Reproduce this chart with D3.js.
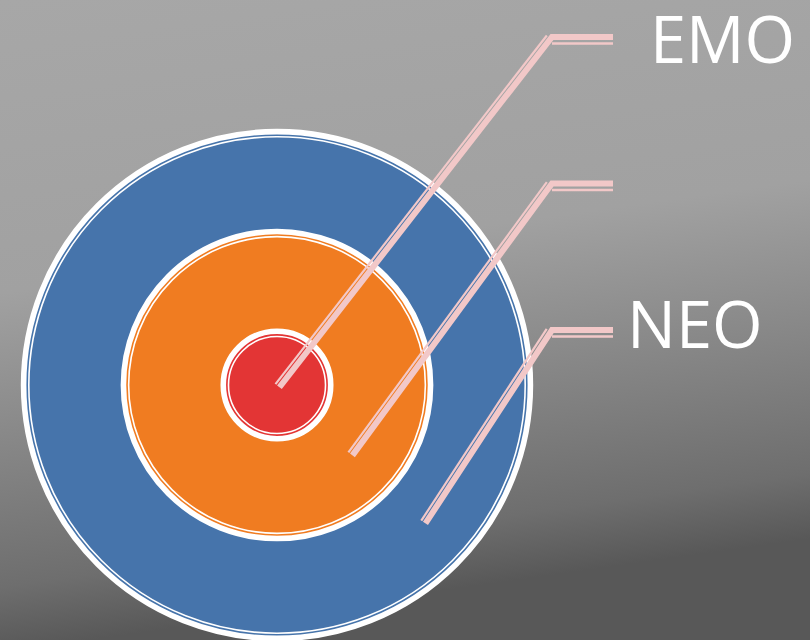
<!DOCTYPE html>
<html>
<head>
<meta charset="utf-8">
<script src="https://cdn.jsdelivr.net/npm/d3@7"></script>
<style>
  html, body { margin: 0; padding: 0; background: #a0a0a0; }
  svg { display: block; }
</style>
</head>
<body>
<svg id="chart" width="810" height="640"></svg>
<script>
// ---- data (inner ring -> outer ring) ----
const categories = ["EMO", "", "NEO"];
const ringValues = [22, 61, 100];          // relative ring size (% of outer radius)
const ringColors = ["#e33535", "#f07c21", "#4674ab"];

const W = 810, H = 640;
const svg = d3.select("#chart");

// background gradient
const defs = svg.append("defs");
const grad = defs.append("linearGradient").attr("id", "bg")
  .attr("gradientUnits", "userSpaceOnUse")
  .attr("x1", 0).attr("y1", 0).attr("x2", 90).attr("y2", 640);
grad.append("stop").attr("offset", "0").attr("stop-color", "#a7a7a7");
grad.append("stop").attr("offset", "0.45").attr("stop-color", "#a1a1a1");
grad.append("stop").attr("offset", "0.9").attr("stop-color", "#6e6e6e");
grad.append("stop").attr("offset", "1").attr("stop-color", "#585858");
svg.append("rect").attr("width", W).attr("height", H).attr("fill", "url(#bg)");

const cx = 277, cy = 385;
const rScale = d3.scaleLinear().domain([0, 100]).range([0, 256]);

const rings = categories.map((c, i) => ({ label: c, value: ringValues[i], color: ringColors[i], i }));

// draw from outer to inner
const g = svg.append("g").attr("transform", `translate(${cx},${cy})`);
const ringG = g.selectAll("g.ring").data(rings.slice().reverse()).join("g").attr("class", "ring");
ringG.append("circle")
  .attr("r", d => rScale(d.value) - 2.6)
  .attr("fill", d => d.color)
  .attr("stroke", "#ffffff")
  .attr("stroke-width", 5.6);
ringG.append("circle")
  .attr("r", d => rScale(d.value) - 7.8)
  .attr("fill", "none")
  .attr("stroke", "#ffffff")
  .attr("stroke-width", 1.6);

// leader lines
const idx = categories.map((c, i) => i);
const yCorner = d3.scalePoint().domain(idx).range([37, 330]);
const yLabel = d3.scalePoint().domain(idx).range([63, 348]);
const xCorner = 552, xEnd = 613;
const ang = 43 * Math.PI / 180;
const pink = "#f2c8c8";

rings.forEach(d => {
  const rr = rScale(d.value) - 53;
  const ax = cx + rr * Math.cos(ang), ay = cy + rr * Math.sin(ang);
  const yc = yCorner(d.i);
  // thick polyline
  svg.append("path")
    .attr("d", d3.line()([[ax, ay], [xCorner, yc], [xEnd, yc]]))
    .attr("fill", "none").attr("stroke", pink).attr("stroke-width", 6)
    .attr("stroke-linejoin", "miter");
  // thin diagonal, offset to upper-left
  const dx = xCorner - ax, dy = yc - ay, len = Math.hypot(dx, dy);
  const nx = dy / len, ny = -dx / len; // perpendicular
  const off = 5;
  const ox = nx * off * (nx < 0 ? 1 : -1), oy = ny * off * (nx < 0 ? 1 : -1);
  svg.append("line")
    .attr("x1", ax + ox).attr("y1", ay + oy)
    .attr("x2", xCorner + ox - dx / len * 2).attr("y2", yc + oy - dy / len * 2)
    .attr("stroke", pink).attr("stroke-width", 2.2);
  // thin horizontal, below
  svg.append("line")
    .attr("x1", xCorner).attr("y1", yc + 6.5)
    .attr("x2", xEnd).attr("y2", yc + 6.5)
    .attr("stroke", pink).attr("stroke-width", 2.3);
});

// labels
const labelX = { "EMO": 650, "NEO": 627 };
svg.selectAll("text.lbl").data(rings.filter(d => d.label)).join("text")
  .attr("class", "lbl")
  .attr("x", d => labelX[d.label])
  .attr("y", d => yLabel(d.i))
  .attr("fill", "#ffffff")
  .attr("font-family", "'Open Sans', sans-serif")
  .attr("font-size", 65)
  .text(d => d.label);
</script>
</body>
</html>
